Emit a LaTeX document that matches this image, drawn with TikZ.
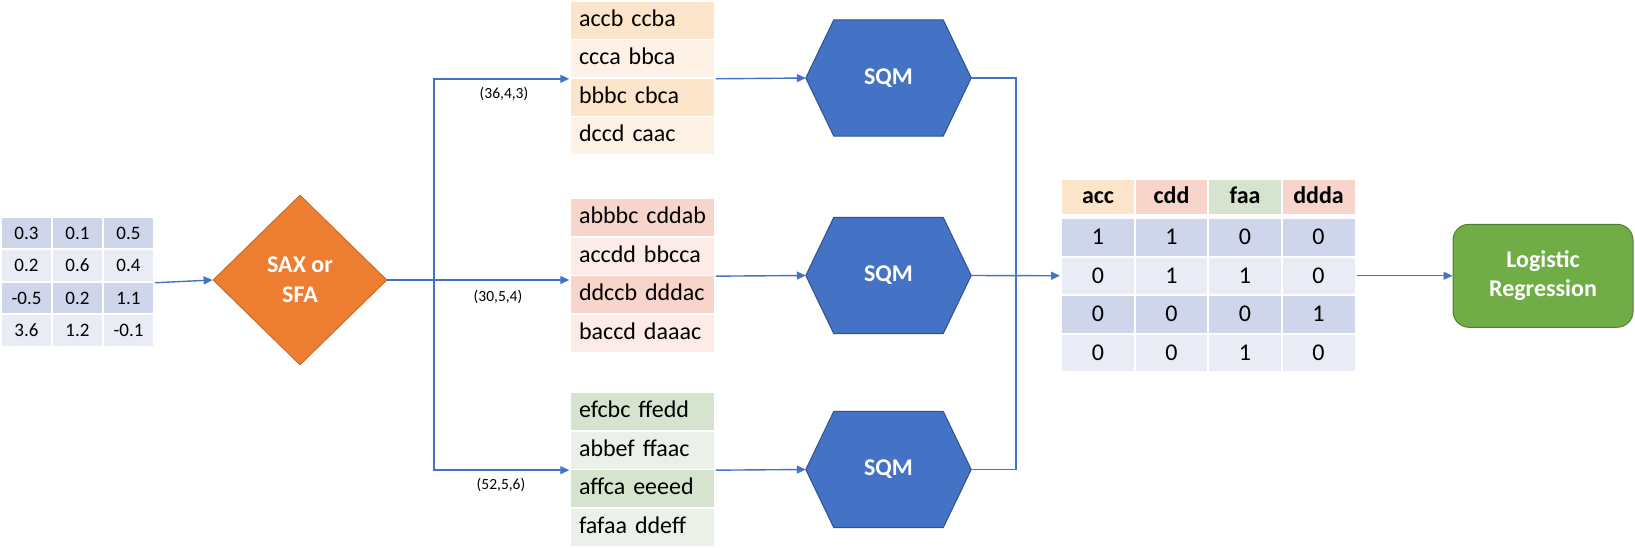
\documentclass[tikz,border=0pt]{standalone}
\usepackage{fontspec}
\setmainfont{Carlito}
\usetikzlibrary{arrows.meta,shapes.geometric}
\pgfdeclarelayer{bg}
\pgfsetlayers{bg,main}
\definecolor{blu}{HTML}{4472C4}
\definecolor{bludark}{HTML}{2F528F}
\definecolor{bdark}{HTML}{CFD5EA}
\definecolor{blight}{HTML}{E9EBF5}
\definecolor{odark}{HTML}{FDE5CB}
\definecolor{olight}{HTML}{FEF2E7}
\definecolor{sdark}{HTML}{F8D5CB}
\definecolor{slight}{HTML}{FCEBE7}
\definecolor{gdark}{HTML}{D5E3CF}
\definecolor{glight}{HTML}{EBF1E9}
\definecolor{orng}{HTML}{ED7D31}
\definecolor{orngdark}{HTML}{C5651F}
\definecolor{grn}{HTML}{70AD47}
\definecolor{grndark}{HTML}{507E32}
\tikzset{
  lcell/.style={draw=white, line width=2pt, minimum width=51pt, minimum height=32.5pt,
    inner sep=0pt, font=\fontsize{19}{22}\selectfont, text height=13pt, text depth=1pt},
  wcell/.style={draw=white, line width=1.5pt, text width=127pt, inner xsep=9pt, inner ysep=0pt,
    minimum height=38.6pt, align=left, font=\fontsize{24}{28}\selectfont,
    text height=16pt, text depth=4pt},
  rcell/.style={draw=white, line width=2pt, minimum width=74pt, minimum height=38.5pt,
    inner sep=0pt, font=\fontsize{24}{28}\selectfont, text height=16pt, text depth=1pt},
  hcell/.style={rcell, minimum height=36pt, font=\fontsize{24}{28}\selectfont\bfseries, text depth=3pt},
  hexn/.style={minimum width=165pt, minimum height=116pt, inner sep=0pt, text=white,
    font=\fontsize{24}{28}\selectfont\bfseries},
  hexfill/.style={fill=blu, draw=bludark, line width=1pt},
  lab/.style={font=\fontsize{15.5}{18}\selectfont, inner sep=0pt},
  conn/.style={draw=blu, line width=1.4pt},
  arr/.style={conn, -{Triangle[length=9pt,width=8pt]}},
}
\newcommand{\hexdraw}[1]{%
  \begin{pgfonlayer}{bg}
  \filldraw[hexfill] (#1.west) -- ([xshift=28pt]#1.north west) -- ([xshift=-28pt]#1.north east)
    -- (#1.east) -- ([xshift=-28pt]#1.south east) -- ([xshift=28pt]#1.south west) -- cycle;
  \end{pgfonlayer}}
\begin{document}
\begin{tikzpicture}[x=1pt,y=-1pt]
\useasboundingbox (0,0) rectangle (1635,547);
% left data table
\foreach \r/\y/\c/\a/\b/\d in {1/233/bdark/0.3/0.1/0.5, 2/265.5/blight/0.2/0.6/0.4,
   3/298/bdark/-0.5/0.2/1.1, 4/330.5/blight/3.6/1.2/-0.1} {
  \node[lcell, fill=\c] (l\r1) at (26.5,\y) {\a};
  \node[lcell, fill=\c] (l\r2) at (77.5,\y) {\b};
  \node[lcell, fill=\c] (l\r3) at (128.5,\y) {\d};
}
% diamond
\node[diamond, aspect=1, minimum width=174pt, minimum height=170pt, inner sep=0pt,
  fill=orng, draw=orngdark, line width=0.8pt, text=white, align=center,
  font=\fontsize{24}{30}\selectfont\bfseries] (dia) at (300,280) {SAX or\\SFA};
% word tables
\foreach \r/\y/\c/\w in {1/20.25/odark/accb ccba, 2/58.75/olight/ccca bbca,
   3/97.25/odark/bbbc cbca, 4/135.75/olight/dccd caac} {
  \node[wcell, fill=\c] (t1\r) at (642.5,\y) {\w};
}
\foreach \r/\y/\c/\w in {1/217.4/sdark/abbbc cddab, 2/256.1/slight/accdd bbcca,
   3/294.9/sdark/ddccb dddac, 4/333.6/slight/baccd daaac} {
  \node[wcell, fill=\c] (t2\r) at (642.5,\y) {\w};
}
\foreach \r/\y/\c/\w in {1/411.4/gdark/efcbc ffedd, 2/450.1/glight/abbef ffaac,
   3/488.9/gdark/affca eeeed, 4/527.6/glight/fafaa ddeff} {
  \node[wcell, fill=\c] (t3\r) at (642.5,\y) {\w};
}
% labels
\node[lab] (lab1) at (504,94) {(36,4,3)};
\node[lab] (lab2) at (498,297) {(30,5,4)};
\node[lab] (lab3) at (501,485) {(52,5,6)};
% hexagons
\node[hexn] (h1) at (888.5,78) {SQM};
\hexdraw{h1}
\node[hexn] (h2) at (888.5,275.5) {SQM};
\hexdraw{h2}
\node[hexn] (h3) at (888.5,469.5) {SQM};
\hexdraw{h3}
% right table
\node[hcell, fill=odark] (hd1) at (1098,197) {acc};
\node[hcell, fill=sdark] (hd2) at (1171.5,197) {cdd};
\node[hcell, fill=gdark] (hd3) at (1245,197) {faa};
\node[hcell, fill=sdark] (hd4) at (1318.5,197) {ddda};
\foreach \r/\y/\c/\a/\b/\d/\e in {1/237.25/bdark/1/1/0/0, 2/275.75/blight/0/1/1/0,
   3/314.25/bdark/0/0/0/1, 4/352.75/blight/0/0/1/0} {
  \node[rcell, fill=\c] (r\r1) at (1098,\y) {\a};
  \node[rcell, fill=\c] (r\r2) at (1171.5,\y) {\b};
  \node[rcell, fill=\c] (r\r3) at (1245,\y) {\d};
  \node[rcell, fill=\c] (r\r4) at (1318.5,\y) {\e};
}
% logistic regression
\node[rectangle, rounded corners=16pt, minimum width=180pt, minimum height=103pt,
  fill=grn, draw=grndark, line width=1pt, text=white, align=center,
  font=\fontsize{24}{29}\selectfont\bfseries] (lr) at (1543,275.75) {Logistic\\Regression};
% connectors
\draw[arr] (l23.south east) -- (dia.west);
\coordinate (sp) at (434,280);
\draw[conn] (dia.east) -- (sp);
\draw[arr] (sp) |- (t12.south west);
\draw[arr] (sp) -- (sp -| t22.south west);
\draw[arr] (sp) |- (t32.south west);
\draw[arr] (t12.south east) -- (h1.west);
\draw[arr] (t22.south east) -- (h2.west);
\draw[arr] (t32.south east) -- (h3.west);
\coordinate (mg) at (1016,275.5);
\draw[conn] (h1.east) -| (mg);
\draw[conn] (h3.east) -| (mg);
\draw[arr] (h2.east) -- (r21.west);
\draw[arr] (r24.east) -- (lr.west);
\end{tikzpicture}
\end{document}
